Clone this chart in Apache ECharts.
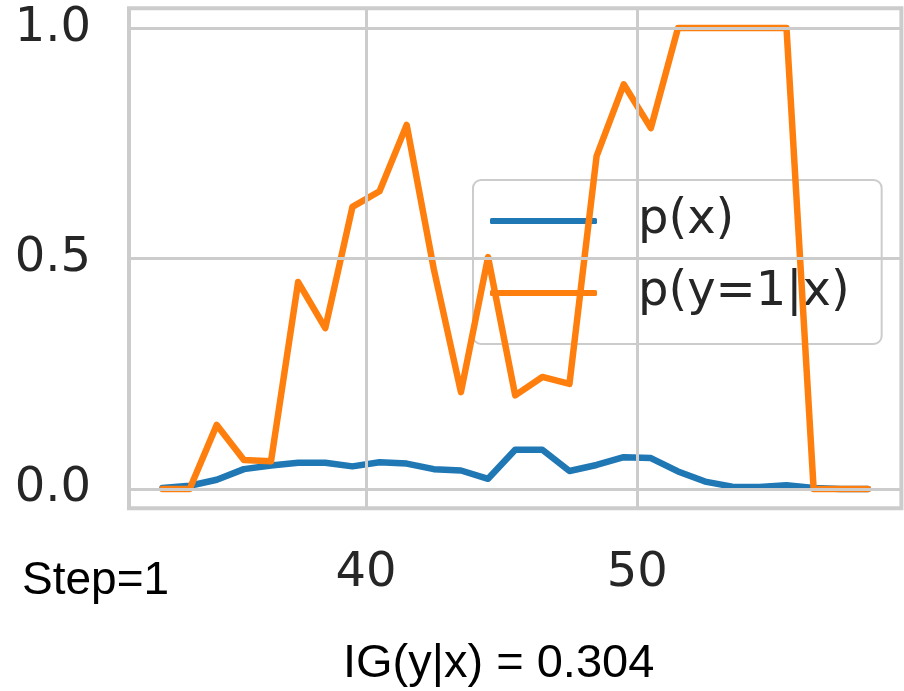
<!DOCTYPE html>
<html>
<head>
<meta charset="utf-8">
<script src="https://cdn.jsdelivr.net/npm/echarts@6/dist/echarts.min.js"></script>
<style>html,body{margin:0;padding:0;background:#fff;}#c{width:904px;height:691px;}</style>
</head>
<body>
<div id="c"></div>
<script>
var xValues = [32.5,33.5,34.5,35.5,36.5,37.5,38.5,39.5,40.5,41.5,42.5,43.5,44.5,45.5,46.5,47.5,48.5,49.5,50.5,51.5,52.5,53.5,54.5,55.5,56.5,57.5,58.5];
var pX = [0.002,0.007,0.020,0.043,0.051,0.057,0.057,0.049,0.058,0.055,0.043,0.040,0.022,0.085,0.085,0.039,0.052,0.069,0.067,0.038,0.016,0.005,0.004,0.008,0.002,0.0,0.0];
var pY1 = [0,0,0.139,0.063,0.060,0.449,0.349,0.612,0.646,0.790,0.477,0.210,0.503,0.203,0.243,0.228,0.722,0.878,0.783,1.0,1.0,1.0,1.0,1.0,0,0,0];
var xTicks = [40, 50];
var yTicks = [0, 0.5, 1.0];
var seriesNames = ['p(x)', 'p(y=1|x)'];
var stepText = 'Step=1';
var igText = 'IG(y|x) = 0.304';

function pairs(xs, ys){ return xs.map(function(x,i){ return [x, ys[i]]; }); }

var gridLines = xTicks.map(function(v){ return {xAxis: v}; }).concat(yTicks.map(function(v){ return {yAxis: v}; }));

var chart = echarts.init(document.getElementById('c'), null, {renderer:'canvas'});
chart.setOption({
  animation: false,
  backgroundColor: '#ffffff',
  title: [
    {text: stepText, left: 17, top: 553, textStyle: {fontFamily: 'Liberation Sans', fontSize: 46, fontWeight: 'normal', color: '#000'}},
    {text: igText, left: 338, top: 636, textStyle: {fontFamily: 'Liberation Sans', fontSize: 47, fontWeight: 'normal', color: '#000'}}
  ],
  grid: {left: 129, right: 2.6, top: 8.3, bottom: 182.7, show: true, borderColor: '#cccccc', borderWidth: 4, backgroundColor: '#ffffff'},
  xAxis: {
    type: 'value', min: 31.265, max: 59.735,
    axisLine: {show: false}, axisTick: {show: false}, splitLine: {show: false},
    axisLabel: {customValues: xTicks, margin: 41, fontFamily: 'DejaVu Sans', fontSize: 48, color: '#262626', showMinLabel: true, showMaxLabel: true}
  },
  yAxis: {
    type: 'value', min: -0.042, max: 1.043,
    axisLine: {show: false}, axisTick: {show: false}, splitLine: {show: false},
    axisLabel: {customValues: yTicks, margin: 38, fontFamily: 'DejaVu Sans', fontSize: 48, color: '#262626',
      formatter: function(v){ return v.toFixed(1); }}
  },
  legend: {
    show: true, orient: 'vertical', left: 473, top: 180,
    data: seriesNames,
    icon: 'roundRect', itemWidth: 107, itemHeight: 6, itemGap: 16,
    padding: [13, 32, 23, 17],
    backgroundColor: 'rgba(255,255,255,0.8)', borderColor: '#cccccc', borderWidth: 2, borderRadius: 8,
    textStyle: {fontFamily: 'DejaVu Sans', fontSize: 48, color: '#262626', lineHeight: 56, padding: [0,0,0,36]}
  },
  series: [
    {type: 'line', name: '_grid', data: pairs(xValues, pX), z: 1, silent: true, showSymbol: false, symbol: 'none',
      lineStyle: {opacity: 0},
      markLine: {silent: true, symbol: ['none','none'], label: {show: false}, animation: false,
        lineStyle: {color: '#cccccc', width: 3, type: 'solid'}, emphasis: {disabled: true}, data: gridLines}},
    {type: 'line', name: seriesNames[0], data: pairs(xValues, pX), z: 3, showSymbol: false, symbol: 'none',
      itemStyle: {color: '#1f77b4'}, lineStyle: {color: '#1f77b4', width: 6.5, join: 'round', cap: 'round'}},
    {type: 'line', name: seriesNames[1], data: pairs(xValues, pY1), z: 4, showSymbol: false, symbol: 'none',
      itemStyle: {color: '#ff7f0e'}, lineStyle: {color: '#ff7f0e', width: 6.5, join: 'round', cap: 'round'}}
  ]
});
</script>
</body>
</html>
